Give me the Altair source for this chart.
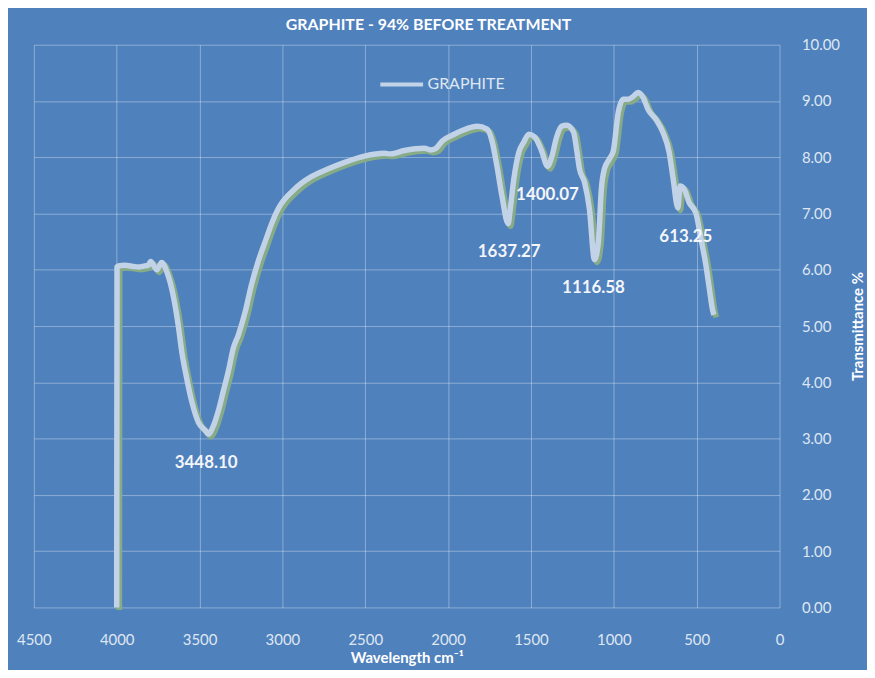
import altair as alt
import pandas as pd

# ---- data ----
wavenumber = [4000, 3998, 3990, 3950, 3900, 3870, 3830, 3810, 3795, 3758, 3729, 3698,
              3656, 3626, 3608, 3578, 3548, 3507, 3464, 3448.10, 3416, 3386, 3356, 3326,
              3296, 3266, 3224, 3188, 3146, 3104, 3065, 3026, 2924, 2828, 2726, 2624,
              2504, 2384, 2348, 2264, 2143, 2107, 2077, 2035, 1963, 1885, 1825, 1765,
              1735, 1705, 1675, 1637.27, 1627, 1603, 1573, 1543, 1513, 1477, 1435,
              1400.07, 1375, 1345, 1315, 1285, 1243, 1225, 1207, 1177, 1147, 1116.58,
              1093, 1075, 1057, 1027, 1003, 973, 943, 913, 883, 853, 823, 793, 745, 703,
              666, 642, 613.25, 600, 576, 546, 504, 474, 444, 426, 402, 396]
transmittance = [0.0, 6.05, 6.07, 6.08, 6.06, 6.05, 6.07, 6.08, 6.15, 6.0, 6.13, 5.97,
                 5.5, 4.96, 4.56, 4.08, 3.67, 3.29, 3.14, 3.08, 3.23, 3.5, 3.85, 4.2,
                 4.61, 4.84, 5.26, 5.72, 6.15, 6.5, 6.82, 7.08, 7.44, 7.65, 7.79, 7.91,
                 8.02, 8.07, 8.06, 8.12, 8.16, 8.13, 8.15, 8.29, 8.41, 8.51, 8.55, 8.5,
                 8.29, 7.84, 7.31, 6.82, 7.03, 7.62, 8.09, 8.27, 8.41, 8.36, 8.11,
                 7.84, 8.0, 8.36, 8.55, 8.57, 8.45, 8.15, 7.79, 7.56, 7.08, 6.18,
                 6.5, 7.44, 7.79, 7.97, 8.11, 8.8, 9.03, 9.03, 9.08, 9.15, 9.06, 8.85, 8.67, 8.44,
                 8.09, 7.62, 7.1, 7.49, 7.44, 7.2, 7.0, 6.55, 6.08, 5.72, 5.26, 5.2]

peak_labels = ["3448.10", "1637.27", "1400.07", "1116.58", "613.25"]
peak_x = [3448.10, 1637.27, 1400.07, 1116.58, 613.25]
peak_y = [3.08, 6.82, 7.84, 6.18, 7.1]
label_dx = [-2, 1, 0, -1, 8]

x_ticks = [4500, 4000, 3500, 3000, 2500, 2000, 1500, 1000, 500, 0]
y_ticks = [0, 1, 2, 3, 4, 5, 6, 7, 8, 9, 10]

series_name = "GRAPHITE"
BG = "#4f81bd"
LINE = "#c3d3e7"
SHADOW = "#86ab86"
TXT = "#dfe7f2"
FONT = "Lato"

df = pd.DataFrame({"w": wavenumber, "t": transmittance,
                   "i": list(range(len(wavenumber))), "s": series_name})
peaks = pd.DataFrame({"w": peak_x, "t": peak_y, "label": peak_labels})

xscale = alt.Scale(domain=[4500, 0], nice=False, zero=False)
yscale = alt.Scale(domain=[0, 10], nice=False)

xax = alt.Axis(values=x_ticks, format="d", title="Wavelength cm⁻¹",
               labelFontSize=15, labelColor=TXT, labelPadding=25, labelFont=FONT,
               labelFlush=False,
               titleFontSize=15, titleColor="white", titleFont=FONT, titleFontWeight="bold",
               titlePadding=3, ticks=False, domain=False, grid=True)
yax = alt.Axis(values=y_ticks, format=".2f", orient="right", title="Transmittance %",
               labelFontSize=15, labelColor=TXT, labelPadding=22, labelFont=FONT,
               labelFlush=False,
               titleFontSize=15, titleColor="white", titleFont=FONT, titleFontWeight="bold",
               titleAngle=270, titlePadding=26, ticks=False, domain=False, grid=True)

shadow = alt.Chart(df).mark_line(color=SHADOW, strokeWidth=6, xOffset=2.5, yOffset=2.5,
                                 interpolate="monotone").encode(
    x=alt.X("w:Q", scale=xscale, axis=xax),
    y=alt.Y("t:Q", scale=yscale, axis=yax),
    order="i:Q",
)

main = alt.Chart(df).mark_line(strokeWidth=5.5, interpolate="monotone").encode(
    x=alt.X("w:Q", scale=xscale),
    y=alt.Y("t:Q", scale=yscale),
    order="i:Q",
    color=alt.Color("s:N", scale=alt.Scale(domain=[series_name], range=[LINE]),
                    legend=alt.Legend(title=None, orient="none", legendX=346, legendY=16,
                                      symbolType="stroke", symbolSize=1850,
                                      symbolStrokeWidth=4, labelFontSize=16,
                                      labelColor=TXT, labelFont=FONT, labelOffset=2)),
)

layers = [shadow, main]
for k in range(len(peak_labels)):
    layers.append(
        alt.Chart(peaks.iloc[[k]]).mark_text(
            fontSize=17, fontWeight="bold", color="#f4f6fa", font=FONT,
            dy=29, dx=label_dx[k], baseline="middle", align="center").encode(
            x=alt.X("w:Q", scale=xscale),
            y=alt.Y("t:Q", scale=yscale),
            text="label:N",
        )
    )

chart = alt.layer(*layers).properties(
    width=750, height=566,
    title=alt.TitleParams("GRAPHITE - 94% BEFORE TREATMENT", fontSize=16,
                          fontWeight="bold", color="white", font=FONT,
                          frame="group", anchor="middle", dx=22, offset=5),
    background=BG,
    autosize=alt.AutoSizeParams(type="none"),
    padding={"left": 26, "top": 35, "right": 88, "bottom": 61},
).configure_view(stroke=None).configure_axis(
    gridColor="#ffffff", gridOpacity=0.35, gridWidth=1
)

chart.save("out.html", embed_options={"renderer": "svg", "actions": False})
